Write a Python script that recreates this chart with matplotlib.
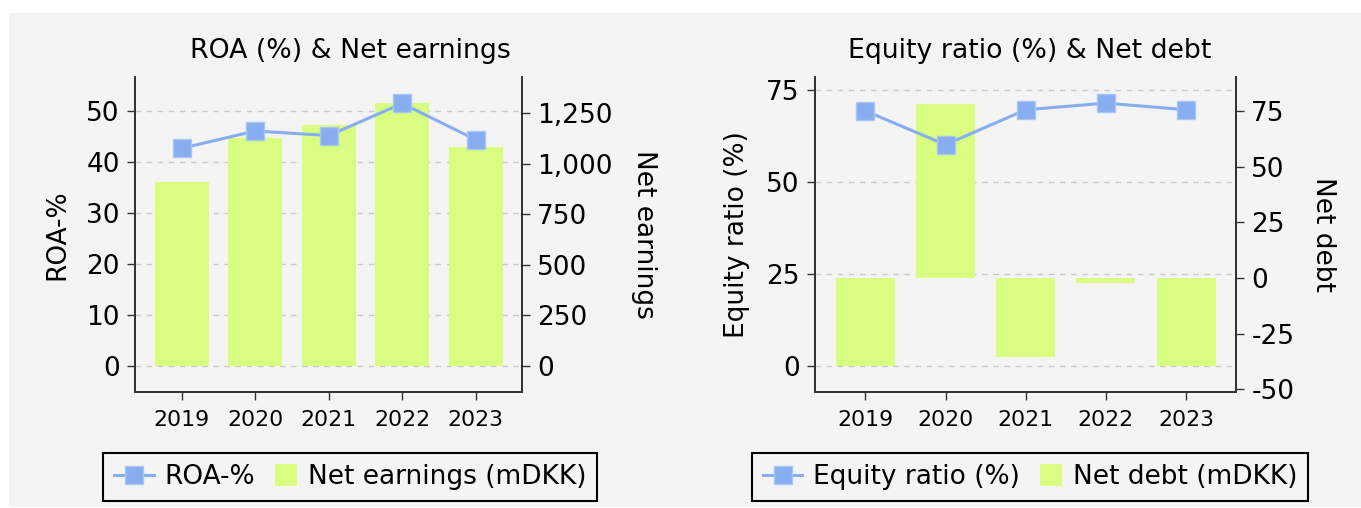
import matplotlib
matplotlib.use("Agg")
import matplotlib.pyplot as plt
from matplotlib.ticker import StrMethodFormatter, FixedLocator
from matplotlib.patches import Rectangle
from matplotlib.legend_handler import HandlerPatch

plt.rcParams['font.family'] = ['DejaVu Sans']
plt.rcParams['axes.unicode_minus'] = False

years = ["2019", "2020", "2021", "2022", "2023"]
roa = [42.7, 46.1, 45.2, 51.5, 44.4]
net_earnings = [910, 1128, 1192, 1301, 1083]
equity_ratio = [69.3, 60.1, 69.6, 71.4, 69.6]
net_debt = [-39.3, 78.1, -35.3, -2.4, -39.3]

LINE_C = '#86aef0'
EDGE_C = '#a9c7f6'
BAR_C = '#d8fd80'
BG = '#f4f4f4'
SPINE_C = '#333333'
GRID_C = '#c8c8c8'

W, H = 1361, 508
fig = plt.figure(figsize=(W / 100, H / 100), dpi=100, facecolor='white')
fig.patches.append(Rectangle((9 / W, 1 / H), 1 - 9 / W, 1 - 14 / H,
                             transform=fig.transFigure, facecolor=BG,
                             edgecolor='none', zorder=-10))

TICK_FS = 19
XT_FS = 15.8
LAB_FS = 19
TITLE_FS = 19.3
LEG_FS = 19


class SquareHandler(HandlerPatch):
    def create_artists(self, legend, orig_handle, xdescent, ydescent,
                       width, height, fontsize, trans):
        s = fontsize * 0.82
        x0 = -xdescent + width - s
        y0 = -ydescent + height / 2 - s / 2
        p = Rectangle((x0, y0), s, s, facecolor=orig_handle.get_facecolor(),
                      edgecolor='none', transform=trans)
        return [p]


def panel(x0px, x1px, title, left_vals, bar_vals, left_label, right_label,
          left_ylim, right_ylim, left_ticks, right_ticks, line_name, bar_name,
          xlim, center_px, right_fmt=None, lpad=11.5, rpad=32):
    y_top, y_bot = 77, 391.7
    rect = [x0px / W, 1 - y_bot / H, (x1px - x0px) / W, (y_bot - y_top) / H]
    ax = fig.add_axes(rect)
    ax.set_facecolor(BG)
    ax.patch.set_alpha(0)
    x = list(range(len(years)))
    axb = ax.twinx()
    axl = fig.add_axes(rect, sharex=ax, sharey=ax, frameon=False)
    ax.set_zorder(0)
    axb.set_zorder(1)
    axl.set_zorder(2)
    axb.patch.set_visible(False)
    axl.patch.set_visible(False)

    bars = axb.bar(x, bar_vals, width=0.735, color=BAR_C, label=bar_name)
    line, = axl.plot(x, left_vals, color=LINE_C, lw=2.2, marker='s',
                     markersize=13, markerfacecolor=LINE_C,
                     markeredgecolor=EDGE_C, markeredgewidth=1,
                     label=line_name)
    axl.tick_params(left=False, bottom=False, labelleft=False, labelbottom=False)

    ax.set_xlim(*xlim)
    ax.set_ylim(*left_ylim)
    axb.set_ylim(*right_ylim)
    ax.yaxis.set_major_locator(FixedLocator(left_ticks))
    axb.yaxis.set_major_locator(FixedLocator(right_ticks))
    if right_fmt:
        axb.yaxis.set_major_formatter(StrMethodFormatter(right_fmt))
    ax.set_xticks(x)
    ax.set_xticklabels(years, fontsize=XT_FS)
    ax.grid(axis='y', color=GRID_C, linestyle=(0, (4, 4)), linewidth=1)
    ax.tick_params(axis='y', labelsize=TICK_FS, length=6, width=1, color=SPINE_C, pad=5)
    ax.tick_params(axis='x', length=6, width=1, color=SPINE_C, pad=7)
    axb.tick_params(axis='y', labelsize=TICK_FS, length=6, width=1, color=SPINE_C, pad=5)
    for a in (ax, axb):
        a.spines['top'].set_visible(False)
        for s in ('left', 'right', 'bottom'):
            a.spines[s].set_color(SPINE_C)
            a.spines[s].set_linewidth(1.3)
    ax.set_ylabel(left_label, fontsize=LAB_FS, labelpad=lpad)
    axb.set_ylabel(right_label, fontsize=LAB_FS, rotation=270, labelpad=rpad)
    tx = (center_px - x0px) / (x1px - x0px)
    ax.set_title(title, fontsize=TITLE_FS, pad=14, x=tx)

    leg = fig.legend([line, bars.patches[0]], [line_name, bar_name], loc='center',
                     bbox_to_anchor=(center_px / W, 1 - 477 / H), ncol=2,
                     fontsize=LEG_FS, frameon=True, fancybox=False,
                     edgecolor='black', facecolor=BG, framealpha=1,
                     handlelength=1.5, handletextpad=0.4, columnspacing=0.1,
                     borderpad=0.42,
                     handler_map={Rectangle: SquareHandler()})
    leg.get_frame().set_linewidth(1.5)


panel(135, 521.7, "ROA (%) & Net earnings", roa, net_earnings,
      "ROA-%", "Net earnings", (-5.1, 56.7), (-129, 1430),
      [0, 10, 20, 30, 40, 50], [0, 250, 500, 750, 1000, 1250],
      "ROA-%", "Net earnings (mDKK)", (-0.635, 4.626), 350,
      right_fmt='{x:,.0f}', lpad=11.5, rpad=32)

panel(815, 1236, "Equity ratio (%) & Net debt", equity_ratio, net_debt,
      "Equity ratio (%)", "Net debt", (-7.0, 78.5), (-51.0, 90.3),
      [0, 25, 50, 75], [-50, -25, 0, 25, 50, 75],
      "Equity ratio (%)", "Net debt (mDKK)", (-0.628, 4.623), 1030,
      lpad=11.5, rpad=30)

fig.savefig("out.png", dpi=100, facecolor='white')
